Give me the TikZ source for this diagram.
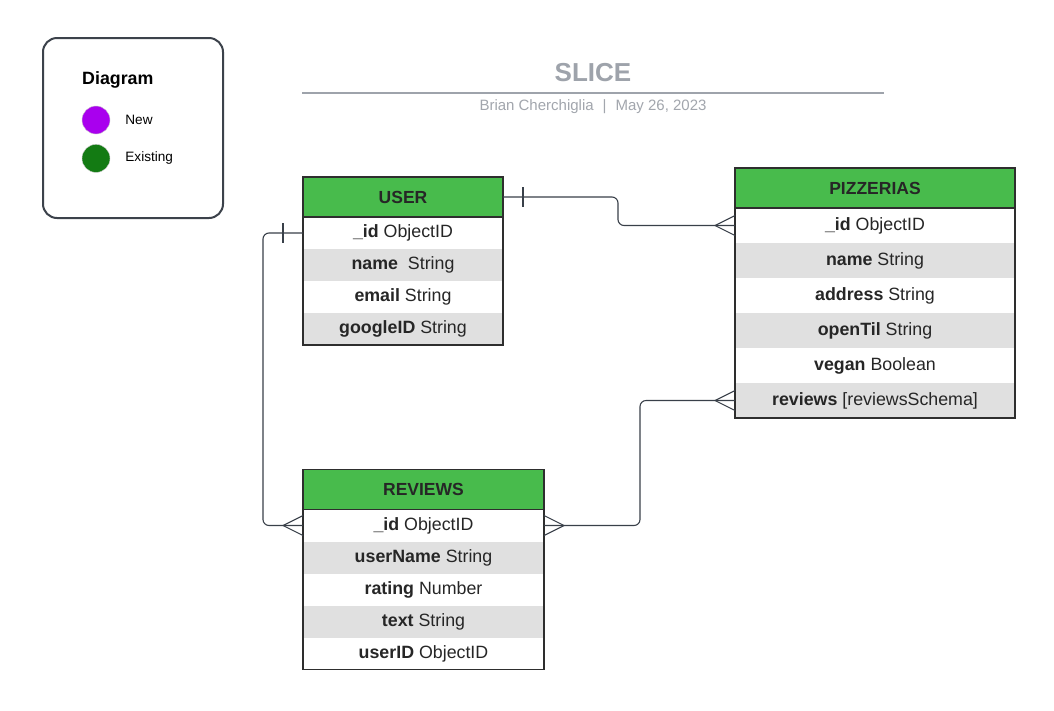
\documentclass[tikz,border=0pt]{standalone}
\usepackage{fontspec}
\setmainfont{Liberation Sans}
\usetikzlibrary{positioning}
\definecolor{hdgreen}{HTML}{48BB4C}
\definecolor{rowgray}{HTML}{E0E0E0}
\definecolor{ink}{HTML}{262626}
\definecolor{edge}{HTML}{2E2E2E}
\definecolor{wire}{HTML}{394049}
\definecolor{framec}{HTML}{3C424B}
\definecolor{titlegray}{HTML}{9EA3AB}
\definecolor{subgray}{HTML}{A2A6AD}
\definecolor{newpurple}{HTML}{A900EE}
\definecolor{oldgreen}{HTML}{137B13}
\tikzstyle{entity}=[draw=edge, line width=1.3pt, fill=hdgreen, text=ink, inner sep=0pt, outer sep=0pt, minimum height=40pt, font=\bfseries\fontsize{17.5}{20}\selectfont]
\tikzstyle{field}=[inner sep=0pt, outer sep=0pt, text=ink, font=\fontsize{17.8}{20}\selectfont]
\tikzstyle{shade}=[field, fill=rowgray]
\tikzstyle{rel}=[draw=wire, line width=1.1pt, rounded corners=6pt]
\tikzstyle{dot}=[circle, draw=gray!40, inner sep=0pt, minimum size=28pt]
\tikzstyle{legtext}=[inner sep=0pt, font=\fontsize{13.6}{16}\selectfont]
\tikzset{
  many/.pic={\draw[wire, line width=1.1pt] (0,-10) -- (-20,0) -- (0,10);},
  one/.pic={\draw[wire, line width=1.1pt] (0,-10) -- (0,10);}
}

\begin{document}
\begin{tikzpicture}[x=1pt, y=-1pt]
  \useasboundingbox[fill=white] (0,0) rectangle (1054,710);
  % legend
  \node[draw=framec, line width=2pt, rounded corners=14pt, minimum width=180pt, minimum height=180pt] (legend) at (133,128) {};
  \node[anchor=west, inner sep=0pt, font=\bfseries\fontsize{17.8}{20}\selectfont] (legtitle) at (82,80) {Diagram};
  \node[dot, fill=newpurple] (newdot) at (96,120) {};
  \node[dot, fill=oldgreen] (olddot) [below=10pt of newdot] {};
  \node[legtext] (newtxt) [right=15pt of newdot] {New};
  \node[legtext] (oldtxt) [right=15pt of olddot] {Existing};
  % title
  \node[text=titlegray, font=\bfseries\fontsize{26}{30}\selectfont] (title) at (593,73) {SLICE};
  \draw[titlegray, line width=2pt] (302,93) -- (884,93);
  \node[text=subgray, font=\fontsize{15}{18}\selectfont] (byline) at (593,107) {Brian Cherchiglia\hspace{0.6em}|\hspace{0.6em}May 26, 2023};

  % USER
  \begin{scope}[every node/.append style={minimum width=200pt, minimum height=32pt}]
    \node[entity, minimum height=40pt] (user) at (403,197) {USER};
    \node[field] (user1) [below=0pt of user]  {\textbf{\_id} ObjectID};
    \node[shade] (user2) [below=0pt of user1] {\textbf{name}\ \ String};
    \node[field] (user3) [below=0pt of user2] {\textbf{email} String};
    \node[shade] (user4) [below=0pt of user3] {\textbf{googleID} String};
  \end{scope}
  \draw[edge, line width=1.3pt] (user.north west) rectangle (user4.south east);

  % PIZZERIAS
  \begin{scope}[every node/.append style={minimum width=280pt, minimum height=35pt}]
    \node[entity, minimum height=40pt] (pz) at (875,188) {PIZZERIAS};
    \node[field] (pz1) [below=0pt of pz]  {\textbf{\_id} ObjectID};
    \node[shade] (pz2) [below=0pt of pz1] {\textbf{name} String};
    \node[field] (pz3) [below=0pt of pz2] {\textbf{address} String};
    \node[shade] (pz4) [below=0pt of pz3] {\textbf{openTil} String};
    \node[field] (pz5) [below=0pt of pz4] {\textbf{vegan} Boolean};
    \node[shade] (pz6) [below=0pt of pz5] {\textbf{reviews} [reviewsSchema]};
  \end{scope}
  \draw[edge, line width=1.3pt] (pz.north west) rectangle (pz6.south east);

  % REVIEWS
  \begin{scope}[every node/.append style={minimum width=241pt, minimum height=32pt}]
    \node[entity, minimum height=40pt] (rv) at (423.5,489.5) {REVIEWS};
    \node[field] (rv1) [below=0pt of rv]  {\textbf{\_id} ObjectID};
    \node[shade] (rv2) [below=0pt of rv1] {\textbf{userName} String};
    \node[field] (rv3) [below=0pt of rv2] {\textbf{rating} Number};
    \node[shade] (rv4) [below=0pt of rv3] {\textbf{text} String};
    \node[field] (rv5) [below=0pt of rv4] {\textbf{userID} ObjectID};
  \end{scope}
  \draw[edge, line width=1.3pt] (rv.north west) rectangle (rv5.south east);

  % relations
  \draw[rel] (user.east) -- ++(115,0) |- (pz1.west);
  \draw[rel] (user1.west) -- ++(-40,0) |- (rv1.west);
  \draw[rel] (rv1.east) -- ++(96,0) |- (pz6.west);
  \pic at ([xshift=20pt]user.east) {one};
  \pic at ([xshift=-20pt]user1.west) {one};
  \pic at (pz1.west) {many};
  \pic at (pz6.west) {many};
  \pic at (rv1.west) {many};
  \pic[rotate=180] at (rv1.east) {many};
\end{tikzpicture}
\end{document}
